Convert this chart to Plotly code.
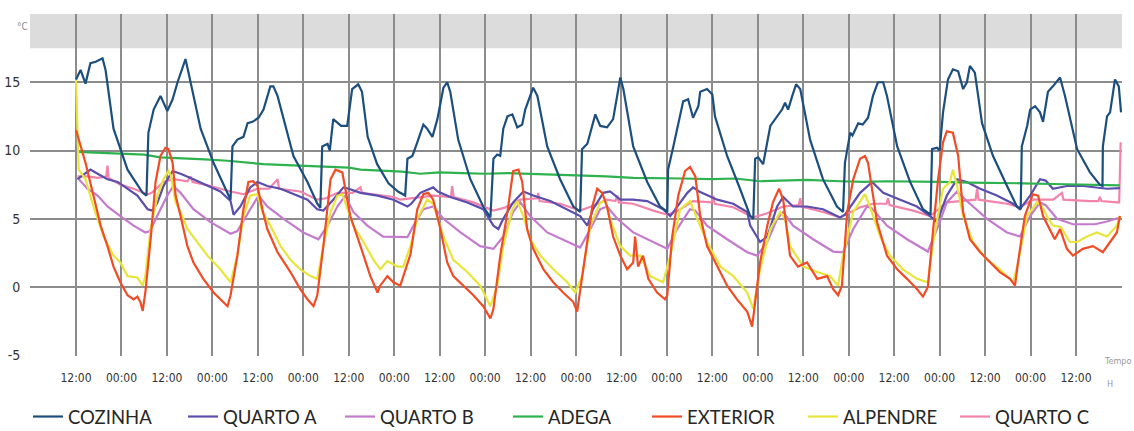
import plotly.graph_objects as go

# ---------------- data (hours since 00:00 of day 1, temperature °C) ----------------
cozinha_t = [12.0,13.2,14.5,15.8,17.2,19.0,19.8,21.9,25.6,29.6,30.6,
             31.1,32.5,34.3,36.1,37.5,38.8,39.6,40.9,41.7,44.9,48.3,52.0,52.8,
             53.3,54.6,56.2,57.3,58.6,60.2,61.5,63.3,64.1,65.2,69.4,73.1,75.7,76.5,
             77.0,78.4,79.0,79.9,82.0,83.6,84.9,86.5,87.5,89.0,91.5,94.5,97.0,98.9,
             99.5,100.8,102.1,103.7,104.7,106.1,107.4,109.0,110.0,110.8,112.9,116.1,119.5,121.4,
             122.2,123.2,124.0,124.8,125.9,127.2,128.5,129.8,130.6,131.9,132.7,133.8,136.4,139.8,143.3,145.1,
             145.6,147.0,148.3,149.1,150.4,152.2,153.8,154.9,155.7,156.5,159.1,162.8,166.2,168.1,
             168.3,169.7,171.0,172.3,173.6,174.9,176.3,176.8,178.6,180.0,180.7,183.9,187.3,190.0,190.8,
             191.3,192.1,193.4,195.3,197.1,198.4,199.2,200.0,201.1,202.1,203.2,205.8,209.2,212.9,214.5,
             215.0,216.4,217.0,218.5,219.7,221.1,222.4,223.7,225.1,226.1,228.8,232.2,235.6,237.6,
             238.0,239.3,240.0,240.9,242.2,243.5,244.9,246.2,247.2,248.0,249.3,251.2,254.1,257.8,260.4,261.4,
             261.7,263.1,263.9,265.2,266.5,267.3,268.6,269.9,271.8,273.1,276.3,279.7,282.3,283.0,
             283.1,284.2,285.0,286.3,287.3,287.9]
cozinha_v = [15.2,15.9,14.9,16.4,16.5,16.75,15.9,11.6,8.6,6.9,6.7,
             11.3,13.0,14.0,12.9,13.75,15.0,15.7,16.7,15.7,11.6,9.1,6.9,6.4,
             10.3,10.8,11.0,12.0,12.1,12.4,13.0,14.7,14.7,14.0,9.6,7.7,6.1,5.8,
             10.3,10.5,10.0,12.3,11.8,11.8,14.5,14.85,14.3,11.0,9.0,7.6,7.0,6.7,
             9.4,9.6,10.6,11.9,11.6,11.0,12.3,14.6,15.0,14.3,10.8,7.9,5.9,5.1,
             9.4,9.7,9.6,11.6,12.5,12.65,11.7,11.9,13.0,14.1,14.6,14.0,10.3,7.9,5.9,5.5,
             10.1,10.5,11.8,12.65,11.8,11.7,12.3,14.0,15.35,14.5,10.3,7.7,5.9,5.5,
             8.6,10.3,12.0,13.6,13.75,12.4,13.25,14.3,14.5,14.1,12.5,9.6,7.2,5.2,5.0,
             9.4,9.5,9.0,11.8,12.5,13.0,13.5,13.0,14.0,14.85,14.5,10.8,7.9,5.9,5.5,
             9.1,11.3,11.1,12.0,11.9,12.4,14.0,15.0,15.0,14.0,10.3,7.7,5.7,5.3,
             10.1,10.2,10.0,12.8,15.2,15.95,15.8,14.5,15.0,16.2,15.7,12.0,9.6,7.4,5.9,5.7,
             10.3,11.8,13.0,13.25,12.8,12.1,14.3,14.7,15.35,14.0,10.1,8.4,7.5,7.4,
             10.3,12.5,12.8,15.2,14.7,12.8]

quarto_a_t = [12.4,15.8,17.7,20.3,23.0,25.6,28.2,30.9,32.2,33.5,
              35.1,37.5,39.6,43.0,46.7,50.1,52.8,53.6,55.4,58.0,
              59.9,62.5,66.0,69.4,73.1,75.7,77.3,79.9,82.6,84.0,
              87.1,91.6,95.8,99.5,100.5,102.9,106.3,107.5,110.8,115.3,
              119.5,122.2,123.5,124.8,127.4,130.1,132.7,137.2,141.7,145.1,
              147.0,148.5,151.2,153.0,155.7,159.0,162.8,167.0,168.9,170.7,
              173.4,174.9,176.5,181.3,185.5,189.2,190.0,192.6,194.5,197.1,
              198.7,201.3,205.0,209.2,213.7,215.0,219.0,222.2,225.1,229.6,
              234.0,237.5,239.3,241.9,244.6,247.2,250.7,255.1,259.4,261.2,
              263.9,266.5,268.0,269.9,271.5,273.6,278.0,284.2,287.6]
quarto_a_v = [7.9,8.6,8.3,7.9,7.7,7.2,6.7,5.7,5.6,6.2,
              7.4,8.5,8.3,7.9,7.4,7.0,6.3,5.3,5.9,7.3,
              7.7,7.4,7.2,6.8,6.4,5.7,5.6,6.4,7.3,7.2,
              6.9,6.7,6.4,5.9,6.1,6.9,7.3,7.0,6.6,6.2,
              5.7,4.5,4.25,5.0,6.2,7.0,6.7,6.3,5.7,5.2,
              4.5,5.7,6.9,7.0,6.4,6.4,6.3,5.7,5.2,5.9,
              6.9,7.3,7.0,6.4,6.1,5.5,4.5,3.3,3.7,5.9,
              6.6,5.9,5.9,5.7,5.1,5.3,6.9,7.7,6.9,6.4,
              5.9,5.2,4.75,6.7,7.9,7.7,7.2,6.7,6.1,5.7,
              6.7,7.9,7.8,7.2,7.3,7.4,7.4,7.2,7.25]

quarto_b_t = [12.4,15.0,17.7,20.3,23.7,27.2,30.3,31.5,34.3,36.1,
              37.7,39.6,43.0,47.5,52.8,54.6,58.0,60.2,62.5,66.8,
              72.0,76.0,78.4,81.0,83.1,85.2,88.9,93.1,99.5,101.1,
              103.7,106.3,109.0,113.5,118.7,122.2,124.8,127.4,129.3,131.9,
              136.4,141.7,145.1,147.8,150.4,152.2,154.9,159.1,164.4,168.1,
              170.7,174.1,175.5,178.6,183.9,189.2,191.8,194.5,197.1,198.7,
              201.3,206.6,211.9,214.5,217.2,220.8,222.0,226.1,231.4,236.9,
              239.3,241.9,244.6,247.2,252.5,257.8,261.2,263.9,266.5,268.0,
              271.0,275.2,281.0,284.2,287.6]
quarto_b_v = [8.0,7.2,6.7,5.9,5.2,4.5,4.0,4.1,5.7,6.7,
              7.4,6.9,5.7,4.75,3.9,4.1,5.7,6.7,5.9,5.0,
              4.0,3.5,4.5,5.9,6.7,5.5,4.5,3.7,3.65,4.5,
              5.7,5.9,5.0,4.0,3.0,2.8,3.7,5.5,6.2,5.2,
              4.0,3.3,2.9,4.25,5.7,5.9,5.0,4.0,3.3,2.8,
              4.25,5.7,5.6,4.5,3.5,2.55,2.3,3.3,5.0,5.5,
              4.5,3.5,2.6,2.55,4.25,5.9,5.8,4.5,3.5,2.6,
              4.25,6.2,7.0,6.3,5.0,4.0,3.7,5.2,6.2,6.0,
              5.0,4.6,4.6,4.8,5.1]

adega_t = [12.4,18,24,30,34.3,40,46,52,58,61.5,
           66,72,78,84,87.1,92,98,102.9,108,114,
           120,126,132.7,138,145,152,159.1,165,172,180,
           186,192.6,198,205,213.7,220,226,233,240,248,
           255,262,270,278,287.6]
adega_v = [9.9,9.85,9.75,9.7,9.5,9.45,9.35,9.25,9.1,9.0,
           8.95,8.9,8.8,8.75,8.6,8.55,8.45,8.3,8.4,8.35,
           8.3,8.35,8.3,8.25,8.2,8.1,8.0,8.0,7.95,7.9,
           7.95,7.75,7.8,7.85,7.75,7.7,7.75,7.7,7.7,7.65,
           7.6,7.6,7.55,7.5,7.45]

exterior_t = [12.0,12.7,14.5,16.6,18.5,20.3,21.9,23.7,25.6,27.2,
              28.2,29.0,29.6,30.3,31.7,33.0,34.3,35.6,36.4,37.5,
              38.3,39.6,41.4,43.0,45.6,48.3,50.9,52.0,52.8,54.6,
              56.2,57.5,58.8,59.9,61.2,62.5,65.2,68.6,71.2,73.1,
              74.7,75.7,77.3,79.2,80.5,82.3,83.1,84.4,87.1,89.7,
              91.6,92.3,94.2,95.8,97.6,100.3,102.1,103.7,105.0,106.3,
              108.2,110.0,111.6,114.2,116.9,119.5,121.4,122.2,124.0,125.9,
              127.4,128.8,129.8,131.1,132.7,135.4,138.0,140.6,143.3,144.3,
              145.6,147.0,148.3,149.6,150.9,152.2,153.8,155.7,157.5,159.1,
              159.6,160.4,161.7,163.1,165.4,167.5,168.1,169.4,171.0,172.8,
              174.1,175.5,176.8,178.6,181.3,183.9,186.5,189.2,190.5,191.3,
              192.6,194.5,196.0,197.6,198.7,200.5,202.6,205.0,207.7,210.3,
              211.9,213.2,214.2,215.6,217.2,219.0,220.3,221.1,222.2,223.5,
              226.1,228.8,231.4,234.0,235.6,236.9,238.3,239.6,240.9,241.9,
              243.5,244.9,246.2,248.0,250.7,253.3,255.9,258.6,259.9,260.7,
              262.5,264.6,266.0,267.3,269.1,270.4,271.8,273.6,275.2,277.8,
              280.5,283.1,285.0,286.8,287.6]
exterior_v = [11.5,10.8,9.1,6.7,4.5,3.0,1.5,0.35,-0.6,-0.9,
              -0.7,-1.1,-1.75,-0.4,3.5,7.7,9.6,10.2,10.1,9.1,
              6.7,5.2,3.0,1.8,0.6,-0.4,-1.1,-1.4,-0.6,2.3,
              5.7,7.7,7.75,7.4,5.7,4.25,2.55,1.1,-0.15,-0.9,
              -1.4,-0.6,3.0,7.9,8.6,8.4,7.2,5.2,3.0,0.8,
              -0.4,0.1,0.8,0.35,0.1,2.4,5.7,6.8,6.9,6.4,
              4.25,1.8,0.8,0.1,-0.6,-1.4,-2.3,-1.6,2.3,5.5,
              8.5,8.6,7.7,4.25,2.8,1.3,0.35,-0.4,-1.1,-1.8,
              0.6,3.5,5.9,7.2,6.9,5.9,3.7,2.3,1.3,1.8,
              3.7,1.5,2.3,0.6,-0.4,-0.9,-0.6,3.7,6.7,8.5,
              8.8,8.1,5.2,3.0,1.5,0.1,-0.9,-1.8,-2.9,-1.1,
              1.8,4.5,6.2,7.2,6.4,2.3,1.5,1.8,0.6,0.8,
              -0.15,-0.6,0.1,5.5,7.9,9.4,9.6,9.1,7.2,4.75,
              2.3,1.3,0.6,-0.15,-0.7,0.0,4.25,7.9,10.6,11.4,
              11.3,9.6,5.5,3.5,2.55,1.8,1.1,0.6,0.1,1.8,
              5.2,6.8,6.7,5.2,4.25,3.5,4.25,2.8,2.3,2.8,
              3.0,2.55,3.3,4.0,5.2]

alpendre_t = [12.0,12.7,14.5,16.6,19.3,21.9,23.7,25.6,28.2,29.6,
              30.3,31.7,33.5,35.1,36.4,37.0,38.3,39.6,41.4,44.1,
              46.7,50.1,52.8,54.6,56.2,58.0,59.9,61.2,63.3,66.0,
              68.6,71.2,73.9,75.7,77.3,79.2,81.0,82.3,83.6,85.2,
              87.9,90.5,92.3,94.2,96.8,98.4,100.3,102.1,104.7,106.3,
              109.0,111.6,115.3,118.7,121.4,123.2,124.8,127.2,128.5,130.1,
              131.9,134.6,138.0,141.7,143.8,145.6,147.8,150.4,151.7,153.0,
              155.7,158.3,161.0,163.6,167.0,168.9,171.5,174.1,176.0,178.6,
              182.1,185.5,189.2,190.8,192.6,195.3,197.9,199.2,200.5,204.0,
              207.7,211.1,213.2,214.5,217.2,220.3,221.6,224.3,226.9,230.3,
              234.0,236.9,238.3,240.9,242.7,243.5,244.6,246.2,248.8,252.5,
              255.9,259.4,260.7,263.1,265.7,267.0,268.3,269.9,272.0,274.4,
              276.3,278.9,281.5,284.2,286.8,287.6]
alpendre_v = [15.2,8.6,7.9,5.9,3.7,2.3,1.8,0.8,0.7,0.1,
              0.8,4.25,6.7,7.9,8.5,8.2,6.2,5.5,4.25,3.3,
              2.3,1.3,0.35,2.3,5.2,6.7,6.8,5.5,4.5,3.0,
              2.0,1.3,0.8,0.6,3.0,5.5,6.7,6.8,5.7,4.5,
              3.3,2.0,1.3,1.9,1.5,1.5,3.0,5.0,6.4,6.1,
              3.7,2.0,1.1,0.1,-1.4,0.1,3.0,5.7,6.3,5.2,
              3.5,2.3,1.3,0.35,-0.4,0.8,4.5,6.2,6.3,5.0,
              3.0,2.3,2.3,0.8,0.35,2.3,5.7,6.3,5.0,3.3,
              1.5,0.8,-0.4,-1.6,1.3,4.25,5.5,5.0,3.0,1.5,
              1.1,0.8,0.1,2.3,5.5,6.8,5.9,3.7,2.3,1.3,
              0.6,0.35,3.3,7.2,7.7,8.6,7.4,5.2,3.3,2.0,
              1.3,0.35,1.8,5.2,6.2,5.9,5.2,4.5,4.4,3.3,
              3.3,3.7,4.0,3.7,4.5,5.2]

quarto_c_t = [12.4,15.0,17.7,20.0,20.3,20.6,23.7,27.2,30.9,32.0,
              35.1,37.7,41.4,42.2,42.8,47.5,52.8,56.2,59.9,63.0,
              65.2,65.6,71.2,75.7,78.0,81.0,85.0,87.1,87.5,90.5,
              95.8,97.6,101.1,106.3,111.0,111.3,111.7,116.9,122.2,125.0,
              129.3,133.8,134.0,134.4,139.8,145.1,148.0,152.2,154.4,154.9,
              155.3,159.1,164.4,168.1,171.0,174.9,179.8,180.2,180.6,185.5,
              190.8,194.5,198.7,202.8,203.2,203.6,209.2,213.7,219.0,222.4,
              226.0,226.4,226.8,233.0,237.5,241.9,245.4,249.5,249.9,250.3,
              257.8,261.2,264.6,270.0,272.3,272.7,279.7,281.9,282.3,282.7,
              286.8,287.4,287.8]
quarto_c_v = [8.1,8.1,8.0,8.1,8.9,8.0,7.5,7.2,6.8,6.9,
              7.7,7.9,7.75,8.1,7.7,7.4,7.0,6.8,7.2,7.2,
              7.9,7.2,7.0,6.4,6.5,6.9,6.9,7.3,6.9,6.8,
              6.6,6.4,6.5,6.7,6.6,7.4,6.6,6.2,5.6,5.8,
              6.4,6.5,6.9,6.3,6.1,5.6,5.9,6.4,6.3,6.7,
              6.2,6.1,5.6,5.3,5.6,6.3,6.2,6.7,6.1,5.85,
              5.1,5.4,5.9,6.0,6.5,5.9,5.5,5.1,5.85,6.1,
              6.1,6.5,6.0,5.6,5.2,6.2,6.3,6.4,7.2,6.4,
              6.1,5.85,6.4,6.4,6.9,6.4,6.3,6.3,6.6,6.3,
              6.2,6.2,10.6]

x_tick_hours = list(range(0, 289, 12))
x_tick_labels = [""] + ["12:00" if i % 2 == 0 else "00:00" for i in range(23)] + [""]
y_tick_values = [-5, 0, 5, 10, 15]
y_tick_labels = ["-5", "0", "5", "10", "15"]

# ---------------- styling ----------------
series = [
    ("QUARTO C", quarto_c_t, quarto_c_v, "#f283ab", "legend7", 955),
    ("QUARTO B", quarto_b_t, quarto_b_v, "#c47bce", "legend3", 340),
    ("QUARTO A", quarto_a_t, quarto_a_v, "#5a4fae", "legend2", 183),
    ("ADEGA", adega_t, adega_v, "#2db24e", "legend4", 508),
    ("ALPENDRE", alpendre_t, alpendre_v, "#e8e53a", "legend6", 803),
    ("EXTERIOR", exterior_t, exterior_v, "#f04c26", "legend5", 647),
    ("COZINHA", cozinha_t, cozinha_v, "#1c4f7e", "legend", 28),
]

W, H = 1134, 431
fig = go.Figure()
legend_layouts = {}
for name, t, v, color, leg, xpx in series:
    fig.add_trace(go.Scatter(
        x=t, y=v, mode="lines", name=name, legend=leg,
        line=dict(color=color, width=2.2), hoverinfo="x+y+name"))
    legend_layouts[leg] = dict(
        orientation="h", xref="container", yref="container",
        x=xpx / W, y=(H - 417) / H, xanchor="left", yanchor="middle",
        bgcolor="rgba(0,0,0,0)", borderwidth=0,
        font=dict(family="Lato, Open Sans, sans-serif", size=18.5, color="#262626"),
        itemwidth=30)

narrow = "Liberation Sans Narrow, DejaVu Sans Condensed, Arial Narrow, sans-serif"
grid_col = "#8c8c8c"

fig.update_layout(
    width=W, height=H,
    margin=dict(l=30, r=12, t=14, b=75, autoexpand=False),
    paper_bgcolor="white", plot_bgcolor="white",
    showlegend=True,
    **legend_layouts,
    xaxis=dict(range=[-0.15, 288.15], tickmode="array", tickvals=x_tick_hours,
               ticktext=x_tick_labels, showgrid=True, gridcolor=grid_col, gridwidth=1.5,
               zeroline=False, showline=False, ticks="outside", ticklen=11,
               tickcolor="rgba(0,0,0,0)", automargin=False,
               tickfont=dict(family=narrow, size=12, color="#333333")),
    yaxis=dict(range=[-5.05, 20], tickmode="array", tickvals=y_tick_values,
               ticktext=y_tick_labels, showgrid=True, gridcolor=grid_col, gridwidth=1.5,
               zeroline=False, showline=False, ticks="outside", ticklen=6,
               tickcolor="rgba(0,0,0,0)", automargin=False,
               tickfont=dict(family=narrow, size=14, color="#333333")),
    shapes=[dict(type="rect", xref="paper", x0=0, x1=1, yref="y", y0=17.5, y1=20,
                 fillcolor="#dcdcdc", line=dict(width=0), layer="below")],
    annotations=[
        dict(text="°C", xref="paper", yref="paper", x=(15 - 30) / 1092, y=(356 - 19) / 342,
             showarrow=False, font=dict(family=narrow, size=10, color="#8a8a8a")),
        dict(text="Tempo", xref="paper", yref="paper", x=(1132 - 30) / 1092, y=(356 - 367) / 342,
             xanchor="right", showarrow=False, borderpad=0,
             font=dict(family=narrow, size=9, color="#9a9a9a")),
        dict(text="H", xref="paper", yref="paper", x=(1114 - 30) / 1092, y=(356 - 390) / 342,
             showarrow=False, borderpad=0,
             font=dict(family=narrow, size=9, color="#9a9a9a")),
    ],
)

# remove the browser's default 8px page margin so the figure sits at (0, 0)
fig.write_html("out.html", config={"displayModeBar": False},
               post_script="document.body.style.margin='0px';document.body.style.overflow='hidden';")
